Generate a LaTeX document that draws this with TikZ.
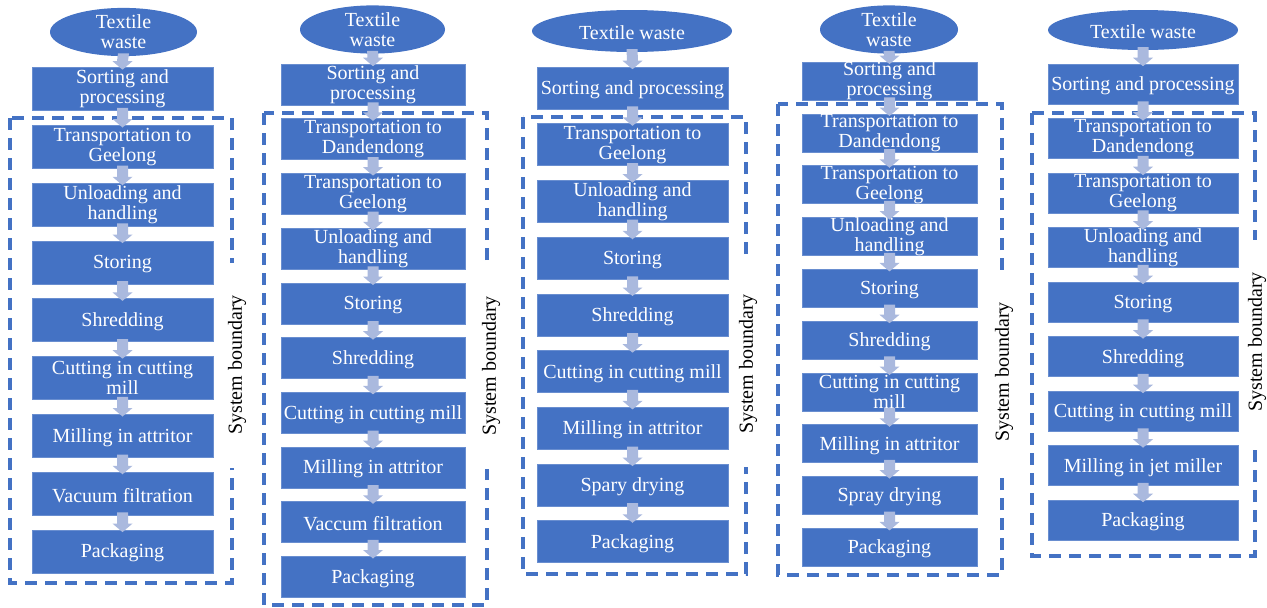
\documentclass[tikz,border=0pt]{standalone}
\usepackage{fontspec}
\setmainfont{Liberation Serif}
\usetikzlibrary{shapes.geometric,calc}
\definecolor{boxblue}{RGB}{68,114,196}
\definecolor{arrowc}{RGB}{170,185,222}
\tikzset{
  procbox/.style={rectangle, fill=boxblue, draw=boxblue!80!white, line width=0.6pt, text=white,
    align=center, inner sep=0pt, font=\fontsize{20}{20}\selectfont,
    execute at begin node={\rule{0pt}{17.5pt}}},
  wasteell/.style={ellipse, fill=boxblue, text=white, align=center, inner sep=0pt,
    font=\fontsize{20}{20}\selectfont, execute at begin node={\rule{0pt}{17pt}}},
  bound/.style={draw=boxblue, line width=3.2pt, dash pattern=on 12pt off 8pt},
  sblabel/.style={rotate=90, fill=white, minimum width=205, minimum height=34, inner sep=0pt,
    font=\fontsize{20}{20}\selectfont}
}
\newcommand\blkarrow[2]{%
  \fill[arrowc] ($(#1.south)+(-5.5,-3)$) -- ($(#2.north)+(-5.5,-6)$) -- ($(#2.north)+(-10,-6)$)
   -- ($(#2.north)+(0,2.5)$) -- ($(#2.north)+(10,-6)$) -- ($(#2.north)+(5.5,-6)$)
   -- ($(#1.south)+(5.5,-3)$) -- cycle;}
\newcommand\flowcol[7]{%
  \foreach \t [count=\i] in {#7} {
    \pgfmathtruncatemacro\prev{\i-1}
    \node[procbox, minimum width=#5, minimum height=#6] (#1-\i) at ({#2},{#3+#4*(\i-1)}) {\t};
    \blkarrow{#1-\prev}{#1-\i}
  }}
\begin{document}
\begin{tikzpicture}[x=1pt,y=-1pt]
\useasboundingbox (0,0) rectangle (1267,608);
% system boundaries
\draw[bound] (10,118) rectangle (232,583);
\draw[bound] (264,113) rectangle (487,605);
\draw[bound] (523,117) rectangle (746,574);
\draw[bound] (778,104) rectangle (1002,575);
\draw[bound] (1032,113) rectangle (1255,556);
% labels
\node[sblabel] (sb1) at (237,365) {System boundary};
\node[sblabel] (sb2) at (491,366) {System boundary};
\node[sblabel] (sb3) at (748,364) {System boundary};
\node[sblabel] (sb4) at (1004,372) {System boundary};
\node[sblabel] (sb5) at (1257,342) {System boundary};
% column 1
\node[wasteell, minimum width=147, minimum height=40] (a-0) at (123.5,32) {Textile\\waste};
\flowcol{a}{122.5}{89}{57.8}{181}{43}{{Sorting and\\processing},{Transportation to\\Geelong},{Unloading and\\handling},Storing,Shredding,{Cutting in cutting\\mill},Milling in attritor,Vacuum filtration,Packaging}
% column 2
\node[wasteell, minimum width=145, minimum height=37] (b-0) at (372.5,29.5) {Textile\\waste};
\flowcol{b}{373}{84.5}{54.7}{184}{41}{{Sorting and\\processing},{Transportation to\\Dandendong},{Transportation to\\Geelong},{Unloading and\\handling},Storing,Shredding,Cutting in cutting mill,Milling in attritor,Vaccum filtration,Packaging}
% column 3
\node[wasteell, minimum width=200, minimum height=42] (c-0) at (632,31) {Textile waste};
\flowcol{c}{632.5}{88}{56.7}{191}{42}{Sorting and processing,{Transportation to\\Geelong},{Unloading and\\handling},Storing,Shredding,Cutting in cutting mill,Milling in attritor,Spary drying,Packaging}
% column 4
\node[wasteell, minimum width=138, minimum height=39] (d-0) at (889,29.5) {Textile\\waste};
\flowcol{d}{889.5}{81}{51.8}{175}{38}{{Sorting and\\processing},{Transportation to\\Dandendong},{Transportation to\\Geelong},{Unloading and\\handling},Storing,Shredding,{Cutting in cutting\\mill},Milling in attritor,Spray drying,Packaging}
% column 5
\node[wasteell, minimum width=190, minimum height=40] (e-0) at (1143,30) {Textile waste};
\flowcol{e}{1143}{84}{54.5}{190}{40}{Sorting and processing,{Transportation to\\Dandendong},{Transportation to\\Geelong},{Unloading and\\handling},Storing,Shredding,Cutting in cutting mill,Milling in jet miller,Packaging}
\end{tikzpicture}
\end{document}
